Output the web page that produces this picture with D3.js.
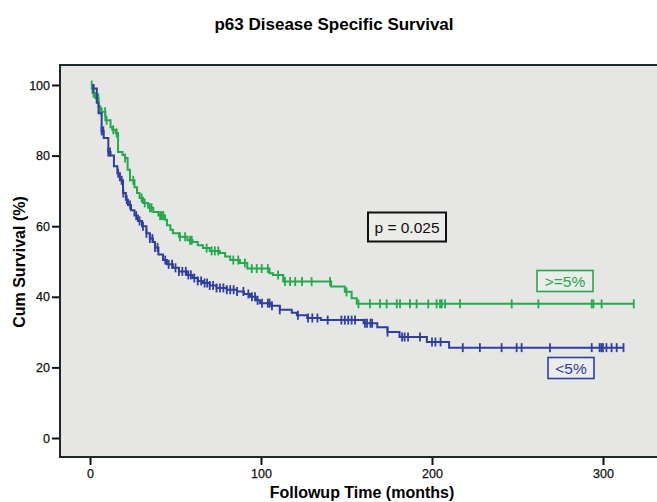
<html>
<head>
  <script src="https://cdn.jsdelivr.net/npm/d3@7/dist/d3.min.js"></script>
  <style>
    body { margin: 0; background: #fff; }
    text { font-family: "Liberation Sans", Arial, sans-serif; }
  </style>
</head>
<body>
<svg class="km" width="657" height="502"></svg>

<script>
  // step points [months, cum survival %] for each group
  var highSteps = [[0,100],[1.5,97.7],[3,96.3],[5,94],[6,92.4],[9,90],[12,88],[13,87.3],[15,86.4],[16.4,81],
    [19,80.2],[20.5,79.3],[22,76],[23.4,73],[26,71],[27.5,69.4],[29,68],[31,66.6],[34,65.2],[37,64],[40,63],
    [43.9,61.8],[45,60.3],[47,59],[48.5,58],[52,57],[57,56],[60,55.5],[63,54.6],[66,53.8],[70,53],[76,52.4],
    [79,51.4],[82,50.4],[87.7,49.6],[92,48],[105,46.7],[107,46.2],[113,44.3],[141,42.9],[149,41.4],[153,39.6],[156,38]];
  var highEnd = 318;
  var highCensor = [1, 2, 3.9, 4.9, 6.8, 8.8, 9.7, 13.6, 15.6, 20.5, 25.3, 30.2, 32, 35, 36, 41, 42, 42.9, 52.6,
    55.6, 58.5, 59.5, 68.2, 71.1, 73, 75, 83.8, 86.7, 90.6, 94.6, 97.5, 100.4, 104, 110, 114, 117, 120, 124, 129.6,
    140.4, 150, 157, 163.7, 169.6, 173.5, 179.4, 181.3, 187.1, 191, 197.8, 202.7, 204.7, 205.7, 207.6, 216.4,
    246.6, 262.2, 293.4, 294.4, 299.2, 318];

  var lowSteps = [[0,100],[2,99],[4,95],[5,92],[6.8,87],[8,85],[10.7,81],[12,80],[14,77],[16,75],[17.5,73],
    [19.3,69.4],[21,67.5],[22.2,66],[24,64.5],[26,63],[28,61.5],[30.4,60],[33,58],[35,56.5],[36.8,55.5],[38,54],
    [40,52],[42.7,50.4],[45,49.2],[48.5,48.2],[52,47.2],[56.7,46.2],[60,45.3],[63,44.5],[66,43.9],[70,43.2],
    [74,42.5],[80,42],[86,41.5],[90,40.8],[93.6,40],[97,39],[99.4,38.2],[106,37.5],[111,36.3],[118,35.5],
    [121,34.8],[127,34],[135,33.4],[160,32.5],[168,31.4],[174,30],[181,28.6],[197,27.2],[210,25.6]];
  var lowEnd = 312;
  var lowCensor = [2, 6.8, 7.8, 10.7, 11.7, 16.5, 18.5, 19.5, 21.5, 23.4, 27, 29, 31, 33, 35, 36.5, 38, 39.5, 44,
    46, 48, 50, 52, 54, 56, 57.5, 59, 61, 63, 65, 67, 68.5, 70, 72, 74, 76, 78, 80, 82, 84, 86, 89.7, 92.6, 94.7,
    96.5, 98, 100.6, 104, 105, 106.4, 111, 121.6, 127.5, 130, 133, 139, 147, 149, 151, 153, 155, 160.8, 162, 164,
    165, 174, 182.5, 184, 186, 193, 200, 202, 205, 218, 228, 240.7, 249.5, 252.4, 269, 293.4, 298, 299, 300, 302,
    305, 308, 312];

  var xTicks = [0, 100, 200, 300];
  var yTicks = [0, 20, 40, 60, 80, 100];

  var svg = d3.select('svg.km');
  var x = d3.scaleLinear().domain([0, 300]).range([90, 603]);
  var y = d3.scaleLinear().domain([0, 100]).range([438, 85]);

  // plot area
  svg.append('rect')
    .attr('x', 60).attr('y', 65).attr('width', 620).attr('height', 392)
    .attr('fill', '#e6e6e4').attr('stroke', '#1e2a2a').attr('stroke-width', 2);

  svg.append('text').attr('x', 334).attr('y', 30).attr('text-anchor', 'middle')
    .attr('font-size', 17).attr('font-weight', 'bold').text('p63 Disease Specific Survival');

  // axes
  var yAxis = svg.append('g').attr('transform', 'translate(59,0)')
    .call(d3.axisLeft(y).tickValues(yTicks).tickSize(7).tickSizeOuter(0));
  var xAxis = svg.append('g').attr('transform', 'translate(0,458)')
    .call(d3.axisBottom(x).tickValues(xTicks).tickSize(7).tickSizeOuter(0));
  [xAxis, yAxis].forEach(function(g) {
    g.select('.domain').remove();
    g.selectAll('line').attr('stroke', '#111').attr('stroke-width', 2);
    g.selectAll('text').attr('font-size', 12.5).attr('fill', '#111')
      .attr('stroke', '#111').attr('stroke-width', 0.25);
  });
  yAxis.selectAll('text').attr('x', -9);
  xAxis.selectAll('text').attr('y', 11);

  svg.append('text').attr('transform', 'translate(25,262) rotate(-90)').attr('text-anchor', 'middle')
    .attr('font-size', 16).attr('font-weight', 'bold').text('Cum Survival (%)');
  svg.append('text').attr('x', 362).attr('y', 498).attr('text-anchor', 'middle')
    .attr('font-size', 16).attr('font-weight', 'bold').text('Followup Time (months)');

  function survAt(steps, t) {
    var i = d3.bisectRight(steps.map(function(d) { return d[0]; }), t) - 1;
    return steps[Math.max(i, 0)][1];
  }

  var line = d3.line()
    .x(function(d) { return x(d[0]); })
    .y(function(d) { return y(d[1]); })
    .curve(d3.curveStepAfter);

  function drawGroup(steps, end, censor, color) {
    var pts = steps.slice(1);
    pts.unshift([1.5, steps[0][1]]);
    pts.push([end, steps[steps.length - 1][1]]);
    svg.append('path').datum(pts)
      .attr('d', line).attr('fill', 'none').attr('stroke', color).attr('stroke-width', 2);
    svg.append('g').selectAll('line').data(censor).enter().append('line')
      .attr('x1', function(d) { return x(d); })
      .attr('x2', function(d) { return x(d); })
      .attr('y1', function(d) { return y(survAt(steps, d)) - 4.5; })
      .attr('y2', function(d) { return y(survAt(steps, d)) + 4.5; })
      .attr('stroke', color).attr('stroke-width', 1.8);
  }

  var green = '#22aa4c', blue = '#2f3f9e';
  drawGroup(highSteps, highEnd, highCensor, green);
  drawGroup(lowSteps, lowEnd, lowCensor, blue);

  // annotation boxes
  function labelBox(cx, cy, w, h, txt, color, sw) {
    svg.append('rect').attr('x', cx - w / 2).attr('y', cy - h / 2).attr('width', w).attr('height', h)
      .attr('fill', '#ececea').attr('stroke', color).attr('stroke-width', sw);
    svg.append('text').attr('x', cx).attr('y', cy + 5.5).attr('text-anchor', 'middle')
      .attr('font-size', 15.5).attr('fill', color).text(txt);
  }
  labelBox(407, 227, 78, 29, 'p = 0.025', '#111', 2);
  labelBox(565, 281, 56, 21, '>=5%', green, 1.6);
  labelBox(571, 368, 46, 21, '<5%', blue, 1.6);
</script>
</body>
</html>
